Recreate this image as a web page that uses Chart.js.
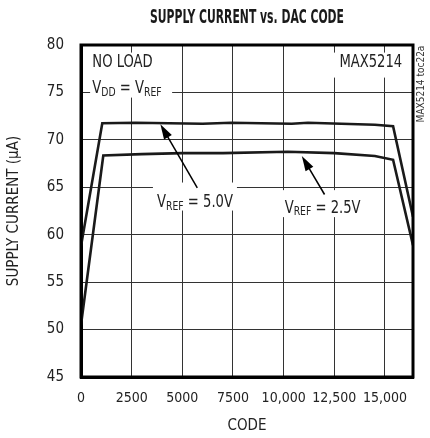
<!DOCTYPE html>
<html>
<head>
<meta charset="utf-8">
<script src="https://cdn.jsdelivr.net/npm/chart.js@4.4.0/dist/chart.umd.min.js"></script>
<style>
  html, body { margin: 0; padding: 0; background: #fff; }
  #wrap { width: 430px; height: 438px; }
</style>
</head>
<body>
<div id="wrap"><canvas id="chart" width="430" height="438"></canvas></div>
<script>
// values (code, supply current in uA)
const code50 = [0, 1050, 2700, 6000, 7400, 10400, 11200, 14500, 15400, 16383];
const curr50 = [58.8, 71.75, 71.8, 71.7, 71.8, 71.7, 71.8, 71.6, 71.45, 61.9];
const code25 = [0, 1100, 3000, 5000, 7000, 10200, 12500, 14500, 15400, 16383];
const curr25 = [50.5, 68.35, 68.5, 68.6, 68.6, 68.75, 68.6, 68.3, 67.9, 58.9];

const xTicks = [0, 2500, 5000, 7500, 10000, 12500, 15000];
const xTickLabels = ['0', '2500', '5000', '7500', '10,000', '12,500', '15,000'];
const yTicks = [45, 50, 55, 60, 65, 70, 75, 80];

const FONT = '"DejaVu Sans Condensed", "Liberation Sans", sans-serif';
const SQUEEZE = 0.86; // the original lettering is narrower than any installed font

function toPoints(xs, ys) {
  return xs.map((x, i) => ({ x: x, y: ys[i] }));
}

// text with optional subscript parts, squeezed horizontally
function drawRichText(ctx, parts, x, y) {
  ctx.save();
  ctx.translate(x, y);
  ctx.scale(SQUEEZE, 1);
  let cx = 0;
  for (let p of parts) {
    ctx.font = (p.sub ? '12px ' : '17px ') + FONT;
    ctx.fillText(p.t, cx, p.sub ? 4 : 0);
    cx += ctx.measureText(p.t).width;
  }
  ctx.restore();
}

function arrow(ctx, x1, y1, x2, y2) {
  let ang = Math.atan2(y2 - y1, x2 - x1);
  let len = 15, half = 4.5;
  ctx.beginPath();
  ctx.moveTo(x1, y1);
  ctx.lineTo(x2 - Math.cos(ang) * len * 0.8, y2 - Math.sin(ang) * len * 0.8);
  ctx.lineWidth = 1.5;
  ctx.strokeStyle = '#000';
  ctx.stroke();
  ctx.beginPath();
  ctx.moveTo(x2, y2);
  ctx.lineTo(x2 - Math.cos(ang) * len + Math.sin(ang) * half, y2 - Math.sin(ang) * len - Math.cos(ang) * half);
  ctx.lineTo(x2 - Math.cos(ang) * len - Math.sin(ang) * half, y2 - Math.sin(ang) * len + Math.cos(ang) * half);
  ctx.closePath();
  ctx.fillStyle = '#000';
  ctx.fill();
}

const notes = {
  id: 'notes',
  beforeDatasetsDraw(chart) {
    const ctx = chart.ctx;
    const xs = chart.scales.x, ys = chart.scales.y;
    ctx.save();
    ctx.fillStyle = '#fff';
    // white boxes behind labels
    ctx.fillRect(xs.getPixelForValue(450), ys.getPixelForValue(79.2), 82, 45);
    ctx.fillRect(xs.getPixelForValue(12450), ys.getPixelForValue(79.2), 74, 25);
    ctx.fillRect(xs.getPixelForValue(3550), ys.getPixelForValue(65.5), 84, 28);
    ctx.fillRect(xs.getPixelForValue(9900), ys.getPixelForValue(64.7), 84, 27);
    ctx.restore();
  },
  afterDatasetsDraw(chart) {
    const ctx = chart.ctx;
    const xs = chart.scales.x, ys = chart.scales.y;
    const a = chart.chartArea;
    const px = v => xs.getPixelForValue(v);
    const py = v => ys.getPixelForValue(v);
    ctx.save();
    ctx.fillStyle = '#222';
    ctx.textBaseline = 'middle';
    ctx.textAlign = 'left';
    drawRichText(ctx, [{ t: 'NO LOAD' }], px(560), py(78.1));
    drawRichText(ctx, [{ t: 'V' }, { t: 'DD', sub: true }, { t: ' = V' }, { t: 'REF', sub: true }], px(560), py(75.4));
    drawRichText(ctx, [{ t: 'MAX5214' }], px(12750), py(78.1));
    drawRichText(ctx, [{ t: 'V' }, { t: 'REF', sub: true }, { t: ' = 5.0V' }], px(3750), py(63.4));
    drawRichText(ctx, [{ t: 'V' }, { t: 'REF', sub: true }, { t: ' = 2.5V' }], px(10050), py(62.8));

    arrow(ctx, px(5739), py(64.95), px(3918), py(71.64));
    arrow(ctx, px(12018), py(64.24), px(10897), py(68.29));

    // chart title, heavy condensed lettering
    ctx.save();
    ctx.font = 'bold 19px ' + FONT;
    ctx.fillStyle = '#1a1a1a';
    let title = 'SUPPLY CURRENT vs. DAC CODE';
    let tw = ctx.measureText(title).width;
    ctx.translate((a.left + a.right) / 2, 18);
    ctx.scale(194 / tw, 1);
    ctx.textAlign = 'center';
    ctx.fillText(title, 0, 0);
    ctx.restore();

    // figure id on the right, rotated
    ctx.translate(421, 84);
    ctx.rotate(-Math.PI / 2);
    ctx.textAlign = 'center';
    ctx.font = '10px ' + FONT;
    ctx.fillStyle = '#333';
    ctx.fillText('MAX5214 toc22a', 0, 0);
    ctx.restore();
  }
};

const chart = new Chart(document.getElementById('chart').getContext('2d'), {
  type: 'line',
  data: {
    datasets: [{
      label: 'VREF = 5.0V',
      data: toPoints(code50, curr50),
      borderColor: '#1a1a1a',
      borderWidth: 2.6,
      pointRadius: 0,
      tension: 0
    },
    {
      label: 'VREF = 2.5V',
      data: toPoints(code25, curr25),
      borderColor: '#1a1a1a',
      borderWidth: 2.6,
      pointRadius: 0,
      tension: 0
    }]
  },
  options: {
    responsive: false,
    animation: false,
    events: [],
    layout: { padding: { left: 0, right: 17, top: 45, bottom: 0 } },
    plugins: {
      legend: { display: false },
      tooltip: { enabled: false },
      title: { display: false }
    },
    scales: {
      x: {
        type: 'linear',
        min: 0,
        max: 16383,
        afterBuildTicks: (s) => { s.ticks = xTicks.map(v => ({ value: v })); },
        afterFit: (s) => { s.height = 61; },
        ticks: {
          color: '#222',
          font: { family: FONT, size: 14 },
          padding: 13,
          maxRotation: 0,
          autoSkip: false,
          callback: (v) => xTickLabels[xTicks.indexOf(v)]
        },
        grid: { color: '#333', lineWidth: 1, drawTicks: false },
        border: { color: '#000', width: 3 },
        title: {
          display: true,
          text: 'CODE',
          color: '#222',
          font: { family: FONT, size: 15 },
          padding: { top: 0, bottom: 3 }
        }
      },
      y: {
        min: 45,
        max: 80,
        afterBuildTicks: (s) => { s.ticks = yTicks.map(v => ({ value: v })); },
        afterFit: (s) => { s.width = 81; },
        ticks: {
          color: '#222',
          font: { family: FONT, size: 15 },
          padding: 17
        },
        grid: { color: '#333', lineWidth: 1, drawTicks: false },
        border: { color: '#000', width: 3 },
        title: {
          display: true,
          text: 'SUPPLY CURRENT (μA)',
          color: '#222',
          font: { family: FONT, size: 15 },
          padding: { top: 5, bottom: 0 }
        }
      }
    }
  },
  plugins: [notes, {
    id: 'frame',
    afterDraw(chart) {
      const a = chart.chartArea, ctx = chart.ctx;
      ctx.save();
      ctx.strokeStyle = '#000';
      ctx.lineWidth = 3;
      ctx.strokeRect(a.left, a.top, a.right - a.left, a.bottom - a.top);
      ctx.restore();
    }
  }]
});
</script>
</body>
</html>
